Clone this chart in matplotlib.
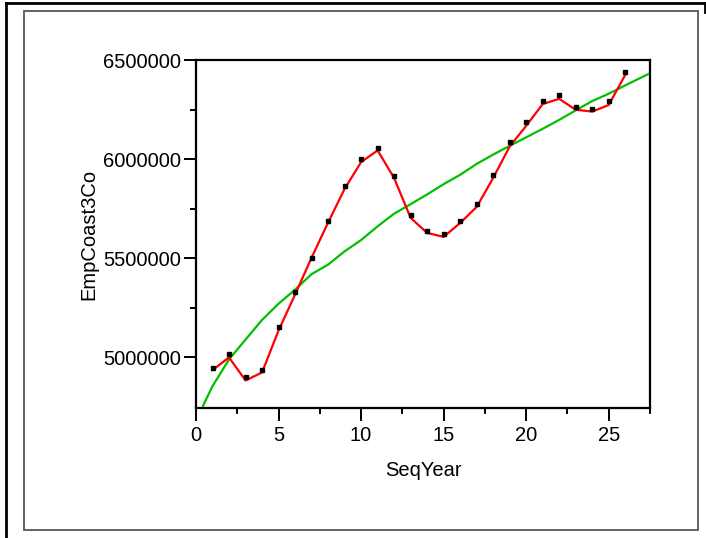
import matplotlib.pyplot as plt
from matplotlib.lines import Line2D
from matplotlib.patches import Rectangle
from matplotlib.ticker import FixedLocator

plt.rcParams['font.family'] = ['Liberation Sans', 'DejaVu Sans']

# observed values
seq_year = list(range(1, 27))
emp = [4948000, 5017000, 4899000, 4938000, 5153000, 5329000, 5503000, 5688000,
       5865000, 6000000, 6057000, 5913000, 5716000, 5639000, 5620000, 5688000,
       5775000, 5921000, 6087000, 6185000, 6292000, 6321000, 6264000, 6254000,
       6292000, 6438000]

# red fit (wiggly smoother)
fit_red = [4936000, 5000000, 4884000, 4924000, 5136000, 5317000, 5503000, 5680000,
           5850000, 5985000, 6044000, 5905000, 5704000, 5628000, 5608000, 5678000,
           5759000, 5905000, 6064000, 6168000, 6278000, 6304000, 6249000, 6240000,
           6273000, 6425000]

# green fit (stiff smoother)
green_x = [0.42, 1, 2, 3, 4, 5, 6, 7, 8, 9, 10, 11, 12, 13, 14, 15, 16, 17, 18,
           19, 20, 21, 22, 23, 24, 25, 26, 27, 27.5]
green_y = [4755000, 4855000, 4990000, 5090000, 5189000, 5271000, 5342000, 5420000,
           5468000, 5535000, 5592000, 5661000, 5725000, 5773000, 5822000, 5874000,
           5921000, 5976000, 6023000, 6067000, 6110000, 6153000, 6198000, 6246000,
           6293000, 6330000, 6372000, 6413000, 6433000]

W, H = 706, 538
fig = plt.figure(figsize=(W / 100, H / 100), dpi=100)
ax = fig.add_axes([196 / W, 1 - 408 / H, 454 / W, 348 / H])

ax.plot(green_x, green_y, color='#00c000', lw=1.6, zorder=2)
ax.plot(seq_year, fit_red, color='#ff0000', lw=1.6, zorder=3)
ax.plot(seq_year, emp, 's', color='black', ms=2.5, zorder=4)

ax.set_xlim(0, 27.5)
ax.set_ylim(4745000, 6500000)
ax.set_xticks([0, 5, 10, 15, 20, 25])
ax.xaxis.set_minor_locator(FixedLocator([2.5, 7.5, 12.5, 17.5, 22.5, 27.5]))
ax.set_yticks([5000000, 5500000, 6000000, 6500000])
ax.set_yticklabels(['5000000', '5500000', '6000000', '6500000'])
ax.yaxis.set_minor_locator(FixedLocator([5250000, 5750000, 6250000]))

ax.tick_params(which='major', length=9, width=1.4, labelsize=14.5, color='black')
ax.tick_params(which='minor', length=4.5, width=1.4)
ax.tick_params(axis='y', which='major', pad=2)
ax.tick_params(axis='x', which='major', pad=4)
for s in ax.spines.values():
    s.set_linewidth(1.6)

ax.set_xlabel('SeqYear', fontsize=14.5)
ax.set_ylabel('EmpCoast3Co', fontsize=14.5)
ax.xaxis.set_label_coords(0.5, -0.152)
ax.yaxis.set_label_coords(-0.215, 0.5)

# inner panel box
fig.add_artist(Rectangle((24 / W, 1 - 530 / H), (698 - 24) / W, (530 - 11) / H,
                         transform=fig.transFigure, fill=False,
                         edgecolor='#555555', lw=1.3))
# outer frame lines
fig.add_artist(Line2D([6 / W, 705 / W], [1 - 3 / H, 1 - 3 / H],
                      transform=fig.transFigure, color='black', lw=2))
fig.add_artist(Line2D([6 / W, 6 / W], [1 - 3 / H, 0], transform=fig.transFigure,
                      color='black', lw=2))
fig.add_artist(Line2D([705 / W, 705 / W], [1 - 3 / H, 1 - 12 / H],
                      transform=fig.transFigure, color='black', lw=2))

fig.savefig('out.png', dpi=100)
